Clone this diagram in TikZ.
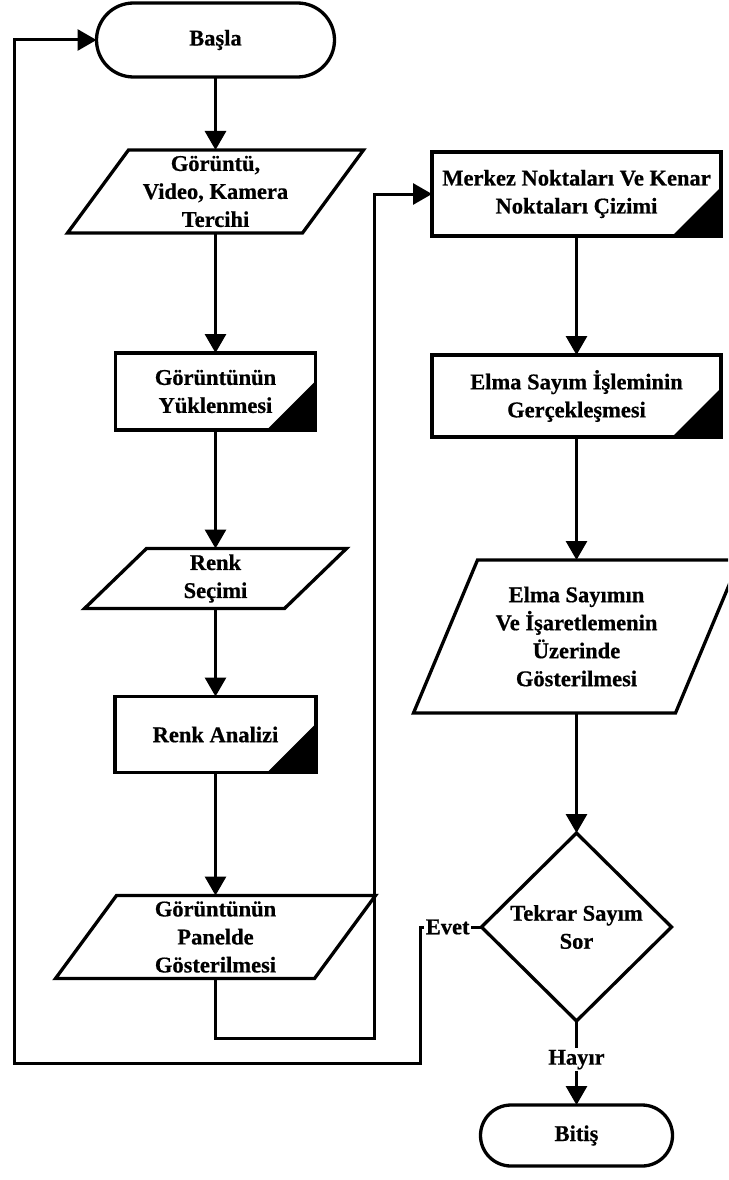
\documentclass[tikz,border=0pt]{standalone}
\usepackage{fontspec}
\setmainfont{Liberation Serif}[BoldFeatures={FakeBold=0.6}]
\usetikzlibrary{arrows.meta,shapes.geometric,shapes.misc}
\begin{document}
\begin{tikzpicture}[x=1pt,y=-1pt,
  font=\bfseries\fontsize{22.5}{28}\selectfont,
  shp/.style={draw, line width=3.3pt, align=center, inner sep=0pt, outer sep=0pt},
  term/.style={shp, rounded rectangle, minimum width=#1, minimum height=74pt},
  proc/.style={shp, rectangle, path picture={\fill (path picture bounding box.south east) -- ++(-49pt,0pt) -- ++(49pt,49pt) -- cycle;}},
  io/.style={align=center, inner sep=0pt, outer sep=0pt},
  ioline/.style={line width=3.3pt, line join=miter},
  dec/.style={shp, diamond, aspect=1},
  conn/.style={line width=3pt, line join=miter},
  arr/.style={conn, -{Triangle[length=19pt,width=21pt]}},
  lbl/.style={fill=white, inner sep=1.5pt},
]
\useasboundingbox (0,0) rectangle (728,1180);
\clip (0,0) rectangle (728,1180);
\fill[white] (0,0) rectangle (728,1180);

% left column
\node[term=238pt] (start) at (215.5,40) {Başla};
\node[io, minimum width=235pt, minimum height=83pt] (p1) at (215.5,191.5) {Görüntü,\\Video, Kamera\\Tercihi};
\node[proc, minimum width=200pt, minimum height=77pt] (load) at (215.5,391.5) {Görüntünün\\Yüklenmesi};
\node[io, minimum width=200pt, minimum height=60pt] (sel) at (215.5,578.5) {Renk\\Seçimi};
\node[proc, minimum width=201pt, minimum height=76pt] (ana) at (215.5,734.5) {Renk Analizi};
\node[io, minimum width=259pt, minimum height=83pt] (pan) at (215.5,937) {Görüntünün\\Panelde\\Gösterilmesi};

% right column
\node[proc, minimum width=289pt, minimum height=84pt] (mrk) at (576.5,194) {Merkez Noktaları Ve Kenar\\Noktaları Çizimi};
\node[proc, minimum width=289pt, minimum height=82pt] (cnt) at (576.5,396) {Elma Sayım İşleminin\\Gerçekleşmesi};
\node[io, minimum width=262pt, minimum height=153pt] (show) at (576.5,636.5) {Elma Sayımın\\Ve İşaretlemenin\\Üzerinde\\Gösterilmesi};
\node[dec, minimum width=190pt, minimum height=188pt] (ask) at (576.5,927) {Tekrar Sayım\\Sor};
\node[term=192pt, minimum height=61pt] (end) at (576.5,1135.5) {Bitiş};

% parallelogram outlines
\draw[ioline] ([xshift=30.5pt]p1.north west) -- ([xshift=30.5pt]p1.north east) -- ([xshift=-30.5pt]p1.south east) -- ([xshift=-30.5pt]p1.south west) -- cycle;
\draw[ioline] ([xshift=31pt]sel.north west) -- ([xshift=31pt]sel.north east) -- ([xshift=-31pt]sel.south east) -- ([xshift=-31pt]sel.south west) -- cycle;
\draw[ioline] ([xshift=30.5pt]pan.north west) -- ([xshift=30.5pt]pan.north east) -- ([xshift=-30.5pt]pan.south east) -- ([xshift=-30.5pt]pan.south west) -- cycle;
\draw[ioline] ([xshift=32pt]show.north west) -- ([xshift=32pt]show.north east) -- ([xshift=-32pt]show.south east) -- ([xshift=-32pt]show.south west) -- cycle;

% loop corners
\coordinate (ev) at (420,927);
\coordinate (lb) at (14,1063);
\coordinate (il) at (374,1038);

% connectors
\draw[arr] (start.south) -- (p1.north);
\draw[arr] (p1.south) -- (load.north);
\draw[arr] (load.south) -- (sel.north);
\draw[arr] (sel.south) -- (ana.north);
\draw[arr] (ana.south) -- (pan.north);
\draw[arr] (pan.south) |- (il) |- (mrk.west);
\draw[arr] (mrk.south) -- (cnt.north);
\draw[arr] (cnt.south) -- (show.north);
\draw[arr] (show.south) -- (ask.north);
\draw[arr] (ask.south) -- node[lbl, pos=0.46] {Hayır} (end.north);
\draw[arr] (ask.west) -- node[lbl, pos=0.55] {Evet} (ev) |- (lb) |- (start.west);
\end{tikzpicture}
\end{document}
